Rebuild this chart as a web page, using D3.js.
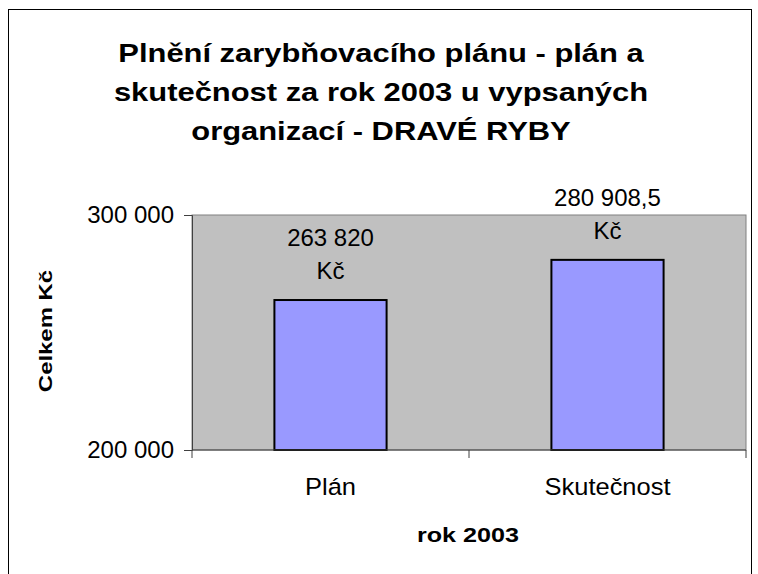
<!DOCTYPE html>
<html>
  <head>
    <meta charset="utf-8">
    <style>
      body {
        margin: 0;
        background: #fff;
        font-family: "Liberation Sans", Arial, sans-serif;
      }
    </style>
  </head>
  <body>
    <div id="chart"></div>
    <script src="https://d3js.org/d3.v7.min.js"></script>
    <script>
      // chart data
      var categories = ["Plán", "Skutečnost"];
      var values = [263820, 280908.5];
      var yTicks = [200000, 300000];
      var titleLines = [
        "Plnění zarybňovacího plánu - plán a",
        "skutečnost za rok 2003 u vypsaných",
        "organizací - DRAVÉ RYBY"
      ];

      var W = 758, H = 574;
      var margin = {top: 215, right: 12, bottom: 124, left: 192},
        width = 746 - margin.left,
        height = 450 - margin.top;

      var cz = d3.formatLocale({decimal: ",", thousands: " ", grouping: [3], currency: ["", " Kč"]});
      var fmtTick = cz.format(",.0f");
      var fmtVal = cz.format(",~f");

      var root = d3.select("#chart").append("svg")
        .attr("width", W)
        .attr("height", H);

      // outer chart border
      root.append("rect")
        .attr("x", 8.5).attr("y", 9.5)
        .attr("width", 743).attr("height", 600)
        .attr("fill", "none")
        .attr("stroke", "#000")
        .attr("stroke-width", 1);

      // title (the original bold type is drawn wider than Arial)
      root.append("g").selectAll("text")
        .data(titleLines)
        .enter().append("text")
          .attr("transform", function(d, i) {
            return "translate(381," + (62 + i * 39) + ") scale(1.18,1)";
          })
          .attr("text-anchor", "middle")
          .style("font-size", "26.2px")
          .style("font-weight", "bold")
          .text(function(d) { return d; });

      var svg = root.append("g")
        .attr("transform", "translate(" + margin.left + "," + margin.top + ")");

      var x = d3.scaleBand()
        .domain(categories)
        .range([0, width])
        .padding(0);

      var y = d3.scaleLinear()
        .domain([200000, 300000])
        .range([height, 0]);

      // plot area
      svg.append("rect")
        .attr("width", width)
        .attr("height", height)
        .attr("fill", "#c0c0c0")
        .attr("stroke", "#808080")
        .attr("stroke-width", 1);

      var barW = x.bandwidth() * 0.405;

      svg.append("g").selectAll("rect")
        .data(values)
        .enter().append("rect")
          .attr("x", function(d, i) { return x(categories[i]) + (x.bandwidth() - barW) / 2; })
          .attr("y", function(d) { return y(d); })
          .attr("width", barW)
          .attr("height", function(d) { return height - y(d); })
          .attr("fill", "#9999ff")
          .attr("stroke", "#000")
          .attr("stroke-width", 2);

      // value labels
      var lab = svg.append("g").selectAll("text")
        .data(values)
        .enter().append("text")
          .attr("text-anchor", "middle")
          .style("font-size", "24px")
          .attr("transform", function(d, i) {
            return "translate(" + (x(categories[i]) + x.bandwidth() / 2) + "," + (y(d) - 21) + ")";
          });
      lab.append("tspan").attr("x", 0).attr("dy", -33).text(function(d) { return fmtVal(d); });
      lab.append("tspan").attr("x", 0).attr("dy", 33).text("Kč");

      // y axis
      var yAxis = svg.append("g")
        .call(d3.axisLeft(y).tickValues(yTicks).tickSize(8).tickPadding(10).tickFormat(fmtTick));
      yAxis.select(".domain").attr("stroke", "#404040");
      yAxis.selectAll("line").attr("stroke", "#404040");
      yAxis.selectAll("text")
        .style("font-size", "24px")
        .style("font-family", "'Liberation Sans', Arial, sans-serif")
        .attr("fill", "#000");

      // x axis: ticks between categories
      var xAxis = svg.append("g")
        .attr("transform", "translate(0," + height + ")");
      xAxis.append("line")
        .attr("x1", 0).attr("x2", width)
        .attr("stroke", "#404040");
      xAxis.selectAll("line.tk")
        .data([0, x(categories[1]), width])
        .enter().append("line")
          .attr("class", "tk")
          .attr("x1", function(d) { return d; })
          .attr("x2", function(d) { return d; })
          .attr("y1", 0).attr("y2", 8)
          .attr("stroke", "#404040");
      xAxis.selectAll("text")
        .data(categories)
        .enter().append("text")
          .attr("transform", function(d) {
            return "translate(" + (x(d) + x.bandwidth() / 2) + ",45) scale(1.04,1)";
          })
          .attr("text-anchor", "middle")
          .style("font-size", "24.5px")
          .text(function(d) { return d; });

      // axis titles
      root.append("text")
        .attr("transform", "translate(468,542) scale(1.29,1)")
        .attr("text-anchor", "middle")
        .style("font-size", "19.5px")
        .style("font-weight", "bold")
        .text("rok 2003");

      root.append("text")
        .attr("transform", "translate(52,331) rotate(-90) scale(1.33,1)")
        .attr("text-anchor", "middle")
        .style("font-size", "18px")
        .style("font-weight", "bold")
        .text("Celkem Kč");
    </script>
  </body>
</html>
